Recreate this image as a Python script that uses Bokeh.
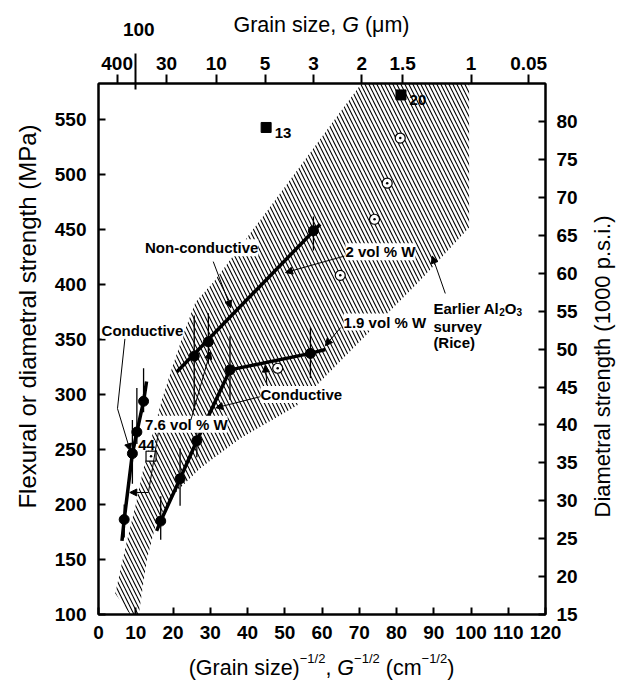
import math
from bokeh.plotting import figure
from bokeh.layouts import column, row
from bokeh.models import (Range1d, LinearAxis, FixedTicker, CustomJSTickFormatter,
                          Label, Arrow, NormalHead)
from bokeh.embed import file_html
from bokeh.resources import INLINE

FONT = "Liberation Sans"

# ---------------- data ----------------
x_ticks = list(range(0, 121, 10))
y_ticks = list(range(100, 551, 50))
psi_ticks = list(range(15, 81, 5))
grain_tick_um = [400, 30, 10, 5, 3, 2, 1.5, 1, 0.75]
grain_tick_labels = ["400", "30", "10", "5", "3", "2", "1.5", "1", "0.05"]
grain_major_um = [100]
grain_major_labels = ["100"]

# non-conductive, 2 vol % W
nonc_x = [25.7, 29.5, 57.7]
nonc_y = [335, 348, 449]
nonc_lo = [286, 328, 431]
nonc_hi = [372, 374, 462]
nonc_line_x = [21.0, 59.5]
nonc_line_y = [320.5, 455]

# conductive, 1.9 vol % W
c19_x = [16.7, 21.9, 26.4, 35.3, 56.9]
c19_y = [185, 223.5, 258, 322.5, 337.5]
c19_lo = [168, 199, 243, 295, 315]
c19_hi = [207.5, 251, 267, 353, 361]
c19_line_x = [15.6, 16.7, 21.9, 26.4, 35.3, 56.9, 60.9]
c19_line_y = [176, 185, 223.5, 258, 322.5, 337.5, 341]

# conductive, 7.6 vol % W
c76_x = [12.1, 10.3, 9.1, 6.9]
c76_y = [294, 266, 246.4, 186.4]
c76_lo = [284, 255, 219, 170]
c76_hi = [324, 306, 277, 200]
c76_line_x = [12.9, 12.1, 10.3, 9.1, 6.9, 6.3]
c76_line_y = [312, 294, 266, 246.4, 186.4, 167]

# earlier Al2O3 survey points (circle with dot)
rice_x = [48.1, 64.9, 74.1, 77.5, 81.0]
rice_y = [324, 408.5, 459.5, 492.3, 533.4]

# filled squares
sq_x = [45.0, 81.2]
sq_y = [543, 572.6]
sq_labels = ["13", "20"]
# open square with dot
osq_x = [14.1]
osq_y = [244]
osq_labels = ["44"]

# hatched band (earlier Al2O3 survey, Rice)
band_x = [4.5, 6.5, 8.0, 10.0, 12.0, 14.5, 17.0, 19.8, 22.8, 26.0, 31.0, 45.0, 64.9, 70.6,
          99.5, 99.5, 86.4, 73.0, 62.2, 53.3, 38.0, 27.3, 20.1, 15.6, 13.0, 10.8, 8.5]
band_y = [119, 150, 172, 200, 232, 264, 295, 325, 355, 384, 403, 466, 557, 583,
          583, 452, 404, 358, 321, 290, 260, 233, 209, 185, 150, 100, 100]

# ---------------- layout ----------------
W, H = 627, 682
TH, BH = 44, 32            # title strips above / below (page px)
LW, RW = 46, 40            # title strips left / right (page px)
MH = H - TH - BH           # height of the middle row
MW = W - LW - RW           # width of the main figure
FL, FR, FT, FB = 98, 545, 83, 614   # frame edges in page pixels
X0, X1, Y0, Y1 = 0, 120, 100, 583
PSI0 = 15
PSI1 = PSI0 + (Y1 - Y0) / 6.895

BT = FT - TH               # main figure top border
BB = (TH + MH) - FB        # main figure bottom border

p = figure(width=MW, height=MH, x_range=Range1d(X0, X1), y_range=Range1d(Y0, Y1),
           output_backend="svg", toolbar_location=None,
           x_axis_location=None, y_axis_location=None,
           min_border_left=FL - LW, min_border_right=(W - FR) - RW,
           min_border_top=BT, min_border_bottom=BB)
p.extra_y_ranges = {"psi": Range1d(PSI0, PSI1)}
p.outline_line_color = "black"
p.outline_line_width = 2
p.background_fill_color = "white"
p.border_fill_color = "white"
p.grid.visible = False

tick_style = dict(major_label_text_font=FONT, major_label_text_font_size="19px",
                  major_label_text_font_style="bold", major_label_text_color="black",
                  axis_line_width=2, axis_line_color="black",
                  major_tick_line_width=2, major_tick_line_color="black",
                  minor_tick_line_color=None)

bottom = LinearAxis(ticker=FixedTicker(ticks=x_ticks), major_tick_in=7, major_tick_out=0,
                    major_label_standoff=11, **tick_style)
p.add_layout(bottom, "below")

left = LinearAxis(ticker=FixedTicker(ticks=y_ticks), major_tick_in=7, major_tick_out=0,
                  major_label_standoff=12, **tick_style)
p.add_layout(left, "left")

right = LinearAxis(y_range_name="psi", ticker=FixedTicker(ticks=psi_ticks),
                   major_tick_in=7, major_tick_out=0, major_label_standoff=11, **tick_style)
p.add_layout(right, "right")

top_x = [100 / math.sqrt(g) for g in grain_tick_um]
top = LinearAxis(ticker=FixedTicker(ticks=top_x),
                 formatter=CustomJSTickFormatter(args=dict(labels=grain_tick_labels),
                                                 code="return labels[index];"),
                 major_tick_in=0, major_tick_out=9, major_label_standoff=5, **tick_style)
p.add_layout(top, "above")

# long tick for the 100 um mark (its label sits in the title strip above)
top2_x = [100 / math.sqrt(g) for g in grain_major_um]
style2 = dict(tick_style)
style2["axis_line_color"] = None
style2["major_label_text_font_size"] = "1px"
top2 = LinearAxis(ticker=FixedTicker(ticks=top2_x),
                  formatter=CustomJSTickFormatter(code="return '';"),
                  major_tick_in=36, major_tick_out=0, major_label_standoff=0, **style2)
p.add_layout(top2, "above")

# ---------------- marks ----------------
p.patch(band_x, band_y, fill_alpha=0, line_color=None,
        hatch_pattern="\\", hatch_color="black", hatch_scale=8, hatch_weight=1.1)

for lx, ly in [(nonc_line_x, nonc_line_y), (c19_line_x, c19_line_y), (c76_line_x, c76_line_y)]:
    p.line(lx, ly, line_width=3.5, line_color="black", line_join="round")

for xs, lo, hi in [(nonc_x, nonc_lo, nonc_hi), (c19_x, c19_lo, c19_hi), (c76_x, c76_lo, c76_hi)]:
    p.segment(x0=xs, y0=lo, x1=xs, y1=hi, line_width=1.3, line_color="black")

for xs, ys in [(nonc_x, nonc_y), (c19_x, c19_y), (c76_x, c76_y)]:
    p.scatter(xs, ys, marker="circle", size=10, fill_color="black", line_color="black")

p.scatter(rice_x, rice_y, marker="circle_dot", size=10, fill_color="white",
          line_color="black", line_width=1.2)
p.scatter(sq_x, sq_y, marker="square", size=10, fill_color="black", line_color="black")
p.scatter(osq_x, osq_y, marker="square_dot", size=10, fill_color="white",
          line_color="black", line_width=1.2)

# ---------------- text helpers ----------------
REG = {' ': 278, '(': 333, ')': 333, ',': 278, '.': 278, '/': 278, '\u2212': 584, '-': 333,
       'A': 667, 'D': 722, 'E': 667, 'F': 611, 'G': 778, 'M': 833, 'O': 778, 'P': 667,
       'R': 722, 'W': 944, 'a': 556, 'c': 500, 'd': 556, 'e': 556, 'g': 556, 'h': 556,
       'i': 222, 'l': 222, 'm': 833, 'n': 556, 'o': 556, 'p': 556, 'r': 333, 's': 500,
       't': 278, 'u': 556, 'v': 500, 'x': 500, 'y': 500, 'z': 500, '\u03bc': 576, '%': 889}
BOLD = {' ': 278, '(': 333, ')': 333, 'A': 722, 'E': 667, 'O': 778, 'a': 556, 'e': 556,
        'i': 278, 'l': 278, 'r': 389, '%': 889, 'W': 944, 'v': 556, 'o': 611}


def tw(t, size, style):
    tab = BOLD if style == "bold" else REG
    return sum(tab.get(c, 556) for c in t) * size / 1000.0


def rich(fig, pieces, x, y, center=True, xscale=1.0, yscale=1.0):
    """pieces: (text, px size, style, rise in px); x, y in fig data units;
    xscale / yscale = data units per pixel (negative if the axis points down)."""
    total = sum(tw(t, s, st) for t, s, st, r in pieces)
    xpx = -total / 2 if center else 0.0
    for t, s, st, rise in pieces:
        if t.strip():
            fig.add_layout(Label(x=x + xpx * xscale, y=y + rise * yscale, text=t,
                                 text_font=FONT, text_font_size=f"{s}px",
                                 text_font_style=st, text_color="black",
                                 text_align="left", text_baseline="alphabetic"))
        xpx += tw(t, s, st)


def strip(width, height, xr, yr, bl=0, br=0, bt=0, bb=0):
    f = figure(width=width, height=height, x_range=Range1d(*xr), y_range=Range1d(*yr),
               output_backend="svg", toolbar_location=None,
               x_axis_location=None, y_axis_location=None,
               min_border_left=bl, min_border_right=br, min_border_top=bt,
               min_border_bottom=bb)
    f.outline_line_color = None
    f.grid.visible = False
    f.background_fill_color = "white"
    f.border_fill_color = "white"
    return f


T = 21.5
S = 13
# top strip: x in page px over the frame span, y in page px (downwards)
top_fig = strip(W, TH, (FL, FR), (TH, 0), bl=FL, br=W - FR)
rich(top_fig, [("Grain size,", T, "normal", 0), (" ", T, "normal", 0),
               ("G", T, "italic", 0), (" ", T, "normal", 0), ("(\u03bcm)", T, "normal", 0)],
     321, 24.5, yscale=-1)
x100 = FL + (top2_x[0] - X0) / (X1 - X0) * (FR - FL)
top_fig.add_layout(Label(x=x100 + 3, y=29, text=grain_major_labels[0], text_font=FONT,
                         text_font_size="19px", text_font_style="bold", text_color="black",
                         text_align="center", text_baseline="middle"))

# bottom strip: x axis title with superscripts
bot_fig = strip(W, BH, (FL, FR), (H, H - BH), bl=FL, br=W - FR)
rich(bot_fig, [("(Grain size)", T, "normal", 0), ("\u22121/2", S, "normal", 9),
               (", ", T, "normal", 0), ("G", T, "italic", 0), ("\u22121/2", S, "normal", 9),
               (" ", T, "normal", 0), ("(cm", T, "normal", 0), ("\u22121/2", S, "normal", 9),
               (")", T, "normal", 0)],
     321, 667, yscale=-1)

# side strips: vertical axis titles (page px coordinates)
left_fig = strip(LW, MH, (0, LW), (FB, FT), bt=BT, bb=BB)
left_fig.add_layout(Label(x=27, y=316, text="Flexural or diametral strength (MPa)",
                          angle=math.pi / 2, text_font=FONT, text_font_size="24px",
                          text_align="center", text_baseline="middle", text_color="black"))
right_fig = strip(RW, MH, (W - RW, W), (FB, FT), bt=BT, bb=BB)
right_fig.add_layout(Label(x=602, y=366, text="Diametral strength (1000 p.s.i.)",
                           angle=math.pi / 2, text_font=FONT, text_font_size="22px",
                           text_align="center", text_baseline="middle", text_color="black"))


# ---------------- annotations inside the frame ----------------
def note(x, y, t, align="left", bg=True, size=15, style="bold"):
    p.add_layout(Label(x=x, y=y, text=t, text_font=FONT, text_font_size=f"{size}px",
                       text_font_style=style, text_color="black", text_align=align,
                       text_baseline="middle",
                       background_fill_color="white" if bg else None))


def arrow(x0, y0, x1, y1):
    p.add_layout(Arrow(x_start=x0, y_start=y0, x_end=x1, y_end=y1, line_width=1,
                       line_color="black",
                       end=NormalHead(size=7, fill_color="black", line_color="black",
                                      line_width=1)))


XPP = (X1 - X0) / (FR - FL)
YPP = (Y1 - Y0) / (FB - FT)

for x, y, t in zip(sq_x, sq_y, sq_labels):
    note(x + 2.3, y - 5, t, bg=False)
for x, y, t in zip(osq_x, osq_y, osq_labels):
    note(x - 1.2, y + 10, t, align="center", bg=True)

note(27.7, 433.5, "Non-conductive", align="center")
note(11.8, 358.5, "Conductive", align="center")
note(12.5, 273, "7.6 vol % W")
note(43.5, 300, "Conductive")
note(66.3, 430, "2 vol % W")
note(65.8, 366, "1.9 vol % W")
rich(p, [("Earlier Al", 15, "bold", 0), ("2", 10, "bold", -3), ("O", 15, "bold", 0),
         ("3", 10, "bold", -3)], 89.9, 378.2, center=False, xscale=XPP, yscale=YPP)
note(89.9, 362, "survey", bg=False)
note(89.9, 347, "(Rice)", bg=False)

arrow(30.8, 421, 35.5, 379)
arrow(66.0, 426, 50.2, 411)
arrow(65.0, 361, 60.9, 344.5)
arrow(93.1, 392, 89.6, 426)
arrow(43.3, 298, 31.5, 288)
arrow(45.2, 309, 44.8, 327)
p.line([7.1, 5.1], [351, 287.3], line_width=1, line_color="black")
arrow(5.1, 287.3, 8.5, 249)
p.line([16.1, 13.4], [266, 211], line_width=1, line_color="black")
arrow(13.4, 211, 8.4, 211)
arrow(24.8, 277, 30.0, 339)

layout = column(top_fig, row(left_fig, p, right_fig, spacing=0), bot_fig, spacing=0)
open("out.html", "w").write(file_html(layout, INLINE))
